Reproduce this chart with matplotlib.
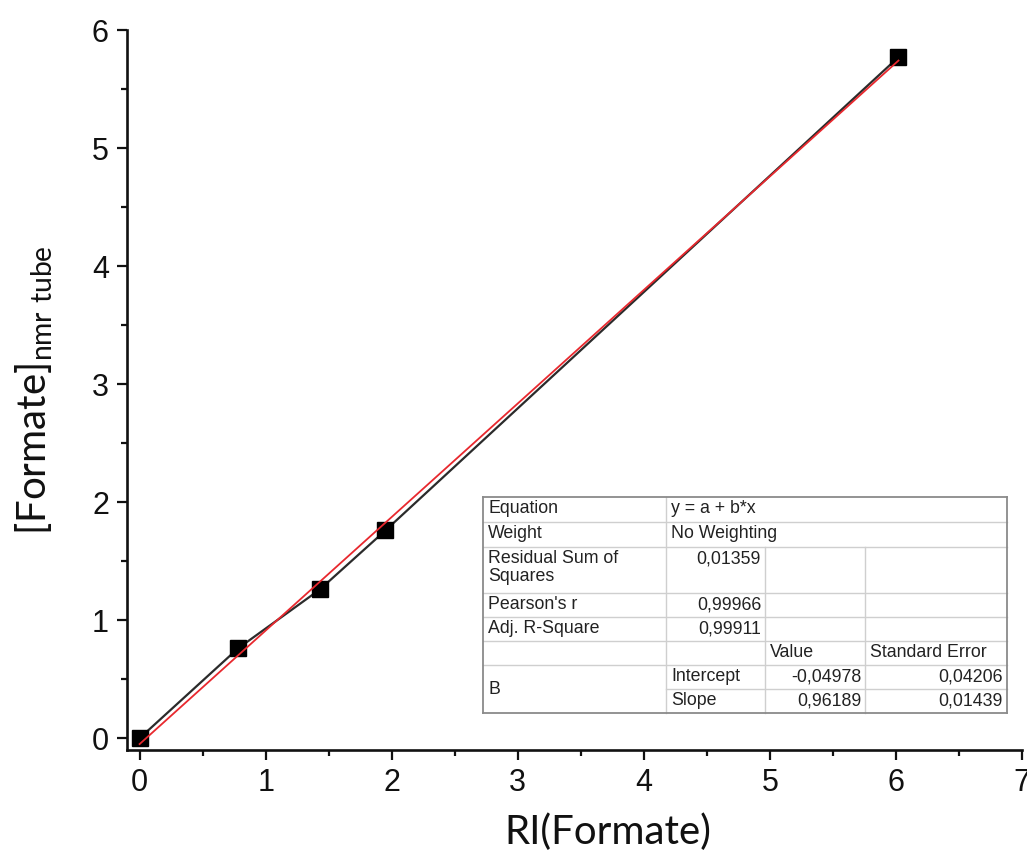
import matplotlib
matplotlib.use("Agg")
import matplotlib.pyplot as plt
from matplotlib.lines import Line2D
from matplotlib.ticker import MultipleLocator
import numpy as np

# ---- data ----
ri_formate = [0.0, 0.78, 1.43, 1.95, 6.02]
formate_nmr = [0.0, 0.76, 1.26, 1.76, 5.77]
fit_intercept = -0.04978
fit_slope = 0.96189

x_ticks = [0, 1, 2, 3, 4, 5, 6, 7]
y_ticks = [0, 1, 2, 3, 4, 5, 6]

table_rows = [
    ("Equation", "y = a + b*x"),
    ("Weight", "No Weighting"),
    ("Residual Sum of\nSquares", "0,01359"),
    ("Pearson's r", "0,99966"),
    ("Adj. R-Square", "0,99911"),
]
param_header = ["Value", "Standard Error"]
param_rows = [("Intercept", "-0,04978", "0,04206"), ("Slope", "0,96189", "0,01439")]
param_group = "B"

W, H = 1027, 852
fig = plt.figure(figsize=(W / 100, H / 100), dpi=100)
plt.rcParams['mathtext.fontset'] = 'custom'
plt.rcParams['mathtext.rm'] = 'Lato'

def fx(x):
    return x / W

def fy(y):
    return 1 - y / H

ax = fig.add_axes([fx(127), fy(750), fx(1022) - fx(127), fy(30) - fy(750)])
ax.set_xlim(-0.1, 7)
ax.set_ylim(-0.1, 6)

ax.plot(ri_formate, formate_nmr, color="#2b2b2b", lw=1.6, marker="s",
        markersize=12, markerfacecolor="black", markeredgecolor="black", zorder=3)
xf = np.array([ri_formate[0], ri_formate[-1]])
ax.plot(xf, fit_intercept + fit_slope * xf, color="#e8282e", lw=1.3, zorder=4)

for s in ["top", "right"]:
    ax.spines[s].set_visible(False)
for s in ["left", "bottom"]:
    ax.spines[s].set_linewidth(1.9)
    ax.spines[s].set_color("#111111")

ax.set_xticks(x_ticks)
ax.set_yticks(y_ticks)
ax.xaxis.set_minor_locator(MultipleLocator(0.5))
ax.yaxis.set_minor_locator(MultipleLocator(0.5))
ax.tick_params(which="major", direction="out", length=7, width=1.6,
               labelsize=22, colors="#111111", pad=6)
ax.tick_params(which="minor", direction="out", length=4.5, width=1.6, colors="#111111")
for lab in ax.get_xticklabels() + ax.get_yticklabels():
    lab.set_fontfamily("Liberation Sans")

fig.text(fx(608), fy(832), "RI(Formate)", fontsize=29, family="Lato",
         ha="center", va="center", color="#111111")
fig.text(fx(34), fy(390), r"[Formate]$_{\mathregular{nmr\ tube}}$", fontsize=29,
         family="Lato", rotation=90, ha="center", va="center", color="#111111")

# ---- table ----
cx = [483, 666, 765, 865, 1007]
ry = [497, 522, 547, 593, 617, 641, 665, 689, 713]
light = "#cfcfcf"
dark = "#8a8a8a"
tfs = 12.8
tfam = "Liberation Sans"

def hline(x0, x1, y, c=light, lw=1.0):
    fig.add_artist(Line2D([fx(x0), fx(x1)], [fy(y), fy(y)], color=c, lw=lw))

def vline(x, y0, y1, c=light, lw=1.0):
    fig.add_artist(Line2D([fx(x), fx(x)], [fy(y0), fy(y1)], color=c, lw=lw))

fig.add_artist(plt.Rectangle((fx(cx[0]), fy(ry[-1])), fx(cx[-1]) - fx(cx[0]),
                             fy(ry[0]) - fy(ry[-1]), facecolor="white",
                             edgecolor="none", zorder=0.5))
for y in ry[1:-1]:
    if y == 689:
        hline(cx[1], cx[-1], y)
    else:
        hline(cx[0], cx[-1], y)
vline(cx[1], ry[0], ry[-1])
vline(cx[2], ry[2], ry[-1])
vline(cx[3], ry[2], ry[-1])
hline(cx[0], cx[-1], ry[0], dark, 1.3)
hline(cx[0], cx[-1], ry[-1], dark, 1.3)
vline(cx[0], ry[0], ry[-1], dark, 1.3)
vline(cx[-1], ry[0], ry[-1], dark, 1.3)

def txt(x, y, s, ha="left", va="top"):
    fig.text(fx(x), fy(y), s, fontsize=tfs, family=tfam, ha=ha, va=va,
             color="#222222", linespacing=1.05)

for i, (lab, val) in enumerate(table_rows):
    top = ry[i] + 3
    txt(cx[0] + 5, top, lab)
    if i < 2:
        txt(cx[1] + 5, top, val)
    else:
        txt(cx[2] - 4, top, val, ha="right")
txt(cx[2] + 5, ry[5] + 3, param_header[0])
txt(cx[3] + 5, ry[5] + 3, param_header[1])
fig.text(fx(cx[0] + 5), fy((ry[6] + ry[8]) / 2), param_group, fontsize=tfs,
         family=tfam, ha="left", va="center", color="#222222")
for j, (name, v, e) in enumerate(param_rows):
    top = ry[6 + j] + 3
    txt(cx[1] + 5, top, name)
    txt(cx[3] - 4, top, v, ha="right")
    txt(cx[4] - 4, top, e, ha="right")

fig.savefig("out.png", dpi=100, facecolor="white")
